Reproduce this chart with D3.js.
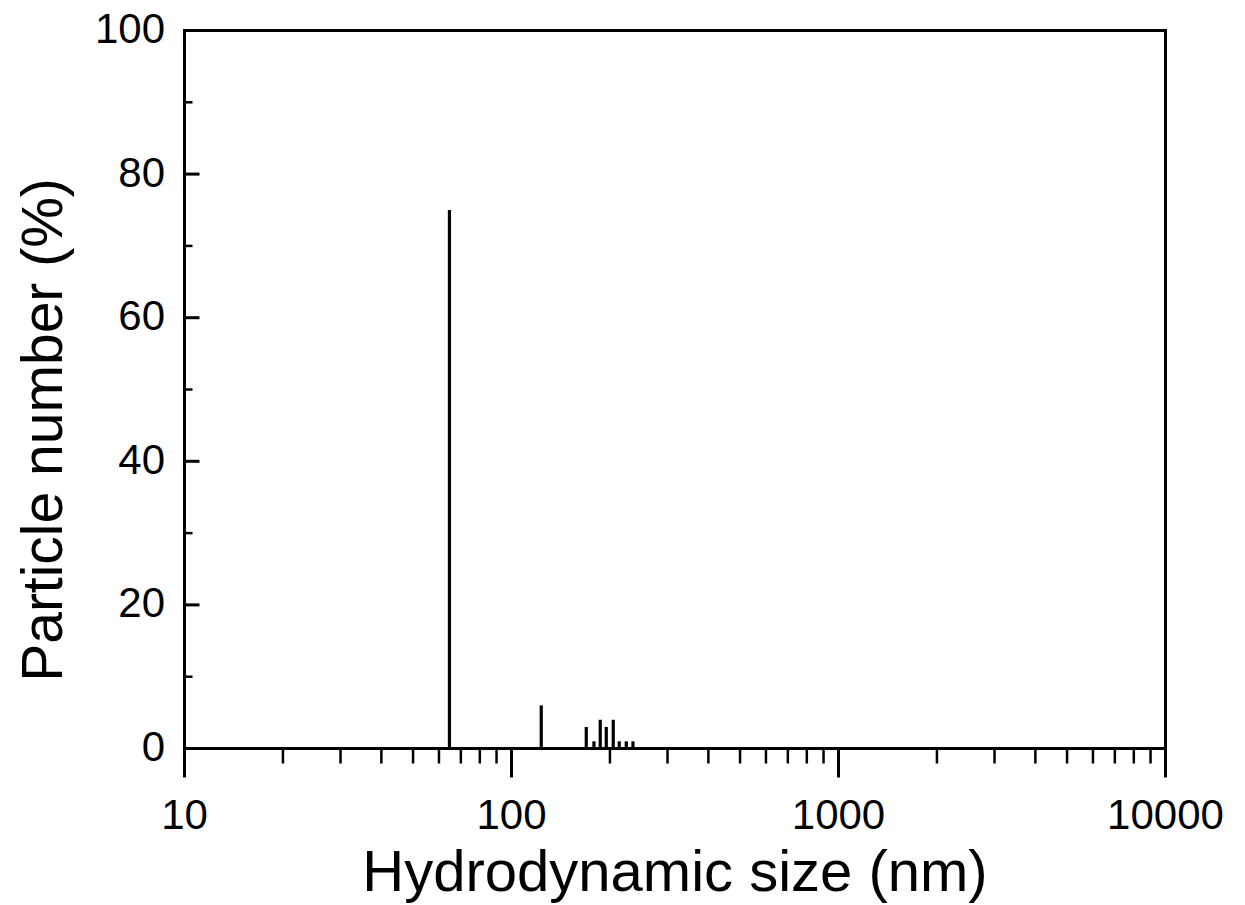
<!DOCTYPE html>
<html>
<head>
<meta charset="utf-8">
<script src="https://cdn.jsdelivr.net/npm/d3@7"></script>
<style>
  body { margin: 0; background: #fff; }
  svg { display: block; }
  text { font-family: Arial, "Liberation Sans", sans-serif; fill: #000; }
</style>
</head>
<body>
<svg id="chart" width="1245" height="905"></svg>
<script>
// Data
const sizes = [64.6, 123.3, 169.3, 178.7, 186.8, 194.9, 204.7, 213.5, 224.4, 235.2];
const numbers = [75, 6, 3, 1, 4, 3, 4, 1, 1, 1];
const xTickValues = [10, 100, 1000, 10000];
const xTickLabels = ["10", "100", "1000", "10000"];
const yTickValues = [0, 20, 40, 60, 80, 100];
const yTickLabels = ["0", "20", "40", "60", "80", "100"];
const xTitle = "Hydrodynamic size (nm)";
const yTitle = "Particle number (%)";

const svg = d3.select("#chart");
const L = 184.5, R = 1165.5, T = 30.5, B = 748.5;

const x = d3.scaleLog().domain([10, 10000]).range([L, R]);
const y = d3.scaleLinear().domain([0, 100]).range([B, T]);

// Bars (drop lines)
svg.append("g").selectAll("line").data(sizes).join("line")
  .attr("x1", d => x(d)).attr("x2", d => x(d))
  .attr("y1", y(0)).attr("y2", (d, i) => y(numbers[i]))
  .attr("stroke", "#000").attr("stroke-width", 3.2);

// X minor ticks
const xMinor = [];
for (let dec = 10; dec < 10000; dec *= 10) {
  for (let k = 2; k <= 9; k++) xMinor.push(dec * k);
}
const gx = svg.append("g");
gx.selectAll("line.minor").data(xMinor).join("line")
  .attr("class", "minor")
  .attr("x1", d => x(d)).attr("x2", d => x(d))
  .attr("y1", B).attr("y2", B + 15)
  .attr("stroke", "#000").attr("stroke-width", 2.5);
gx.selectAll("line.major").data(xTickValues).join("line")
  .attr("class", "major")
  .attr("x1", d => x(d)).attr("x2", d => x(d))
  .attr("y1", B).attr("y2", B + 29)
  .attr("stroke", "#000").attr("stroke-width", 3);
gx.selectAll("text").data(xTickValues).join("text")
  .attr("x", d => x(d)).attr("y", 829)
  .attr("text-anchor", "middle")
  .attr("font-size", 42)
  .text((d, i) => xTickLabels[i]);

// Y ticks (inward)
const yMinor = d3.range(10, 100, 20);
const gy = svg.append("g");
gy.selectAll("line.minor").data(yMinor).join("line")
  .attr("x1", L).attr("x2", L + 8)
  .attr("y1", d => y(d)).attr("y2", d => y(d))
  .attr("stroke", "#000").attr("stroke-width", 2.5);
gy.selectAll("line.major").data(yTickValues).join("line")
  .attr("x1", L).attr("x2", L + 15)
  .attr("y1", d => y(d)).attr("y2", d => y(d))
  .attr("stroke", "#000").attr("stroke-width", 3);
gy.selectAll("text").data(yTickValues).join("text")
  .attr("x", 165).attr("y", d => y(d) + 12.5)
  .attr("text-anchor", "end")
  .attr("font-size", 42)
  .text((d, i) => yTickLabels[i]);

// Frame
svg.append("rect")
  .attr("x", L).attr("y", T).attr("width", R - L).attr("height", B - T)
  .attr("fill", "none").attr("stroke", "#000").attr("stroke-width", 3);

// Titles
svg.append("text")
  .attr("x", (L + R) / 2).attr("y", 891)
  .attr("text-anchor", "middle").attr("font-size", 58)
  .text(xTitle);
svg.append("text")
  .attr("transform", "translate(62,430) rotate(-90)")
  .attr("text-anchor", "middle").attr("font-size", 57)
  .text(yTitle);
</script>
</body>
</html>
